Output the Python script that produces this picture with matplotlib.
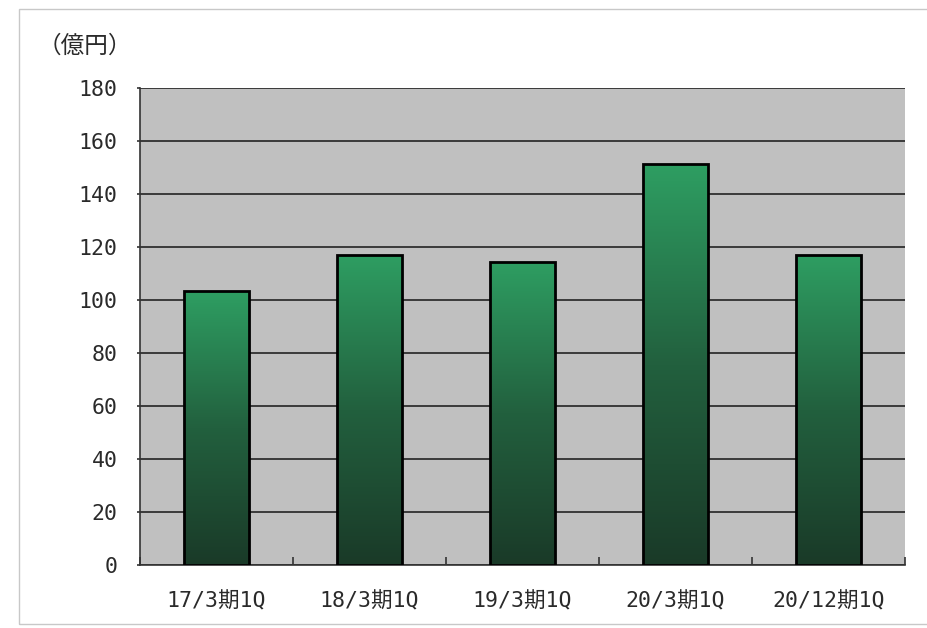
import matplotlib
matplotlib.use("Agg")
import matplotlib.pyplot as plt
import numpy as np
from matplotlib.colors import LinearSegmentedColormap
from matplotlib.patches import Rectangle

plt.rcParams['font.family'] = ['DejaVu Sans Mono', 'Noto Sans CJK JP']

categories = ['17/3期1Q', '18/3期1Q', '19/3期1Q', '20/3期1Q', '20/12期1Q']
values = [103.3, 117.0, 114.5, 151.2, 117.0]
yticks = [0, 20, 40, 60, 80, 100, 120, 140, 160, 180]
unit_label = '（億円）'

W, H = 927, 628
fig = plt.figure(figsize=(W/100, H/100), dpi=100)
fig.patch.set_facecolor('white')

# outer frame
fig.patches.append(Rectangle((19/W, 1 - 624/H), (W + 5 - 19)/W, (624 - 9)/H,
                             transform=fig.transFigure, fill=False,
                             edgecolor='#c8c8c8', linewidth=1.0))

left, right, top, bottom = 140, 905, 88, 565
ax = fig.add_axes([left/W, 1 - bottom/H, (right-left)/W, (bottom-top)/H])
ax.set_facecolor('#c0c0c0')

x = np.arange(len(categories))
ax.set_yticks(yticks)
ax.set_yticklabels([str(t) for t in yticks], fontsize=15.5, color='#2a2a2a')
ax.yaxis.grid(True, color='#3a3a3a', linewidth=1.4)
ax.set_axisbelow(True)

bars = ax.bar(x, values, width=0.42, color='none', edgecolor='black',
              linewidth=2.0, zorder=3)

cmap = LinearSegmentedColormap.from_list('g', ['#1a3a28', '#22603e', '#2e9e62'])
grad = np.linspace(0, 1, 256).reshape(-1, 1)
for b in bars:
    x0, w, h = b.get_x(), b.get_width(), b.get_height()
    im = ax.imshow(grad, cmap=cmap, origin='lower', aspect='auto',
                   extent=[x0, x0 + w, 0, h], zorder=2, interpolation='bicubic')
    im.set_clip_path(b)
ax.set_xlim(-0.5, len(categories) - 0.5)
ax.set_ylim(0, 180)

ax.set_xticks(x)
ax.set_xticklabels(categories, fontsize=15.5, color='#2a2a2a')
ax.tick_params(axis='x', length=0, pad=19)
ax.set_xticks(np.arange(-0.5, len(categories)), minor=True)
ax.tick_params(axis='x', which='minor', direction='in', length=6, width=1.2, color='#333333')
ax.tick_params(axis='y', direction='out', length=2, width=1.2, color='#333333', pad=14)

for s in ['top', 'right']:
    ax.spines[s].set_visible(False)
for s in ['left', 'bottom']:
    ax.spines[s].set_color('#333333')
    ax.spines[s].set_linewidth(1.2)

fig.text(38/W, 1 - 46/H, unit_label, fontsize=17, color='#2a2a2a', va='center', ha='left',
         family=['Noto Sans CJK JP', 'DejaVu Sans'])

fig.savefig('out.png', dpi=100)
